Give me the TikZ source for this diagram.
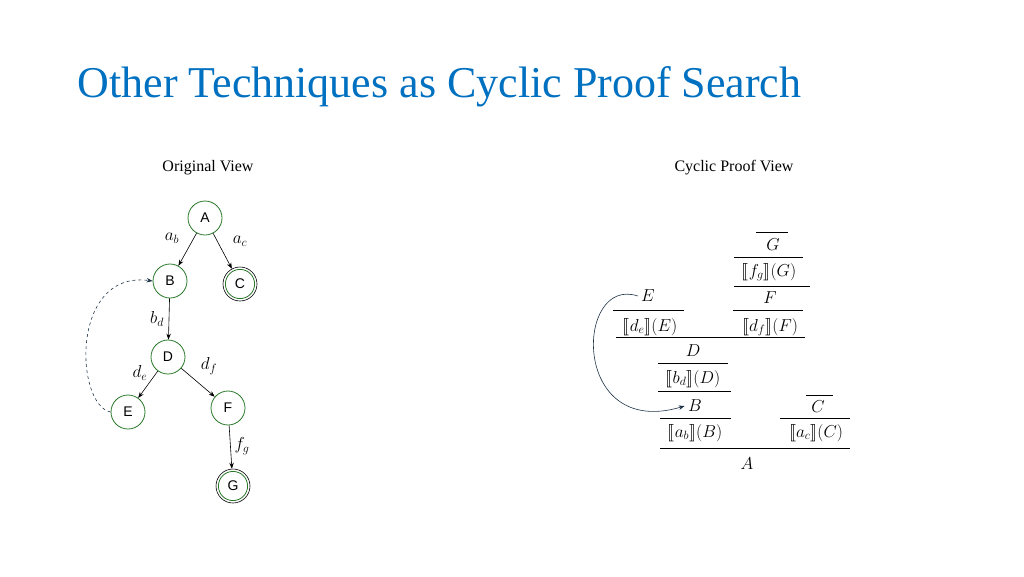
\documentclass[tikz,border=0pt]{standalone}
\usepackage{stmaryrd}
\usepackage{fontspec}
\setmainfont{Liberation Serif}
\setsansfont{Liberation Sans}
\usetikzlibrary{arrows.meta}
\definecolor{titleblue}{RGB}{0,112,192}
\definecolor{nodegreen}{RGB}{40,120,40}
\definecolor{loopblue}{RGB}{30,50,70}

\tikzset{
  state/.style={circle, draw=nodegreen, thick, fill=white, minimum size=34pt,
    inner sep=0pt, font=\sffamily\fontsize{14}{14}\selectfont},
  final/.style={state, draw=black, semithick,
    path picture={\draw[nodegreen, thick] (path picture bounding box.center) circle (14.6pt);}},
  trans/.style={-{Stealth[length=6pt]}, semithick},
  elabel/.style={font=\fontsize{18}{18}\selectfont},
  rule/.style={semithick},
  judg/.style={font=\fontsize{17}{17}\selectfont}
}

\begin{document}
\begin{tikzpicture}[x=1pt, y=-1pt]
  \useasboundingbox (0,0) rectangle (1024,576);

  % Title and headings
  \node[anchor=west, text=titleblue, font=\fontsize{44}{44}\selectfont] (title) at (74,87) {Other Techniques as Cyclic Proof Search};
  \node[font=\fontsize{16}{16}\selectfont] (orig) at (208,168) {Original View};
  \node[font=\fontsize{16}{16}\selectfont] (cyc) at (734,168) {Cyclic Proof View};

  % States
  \node[state] (A) at (205,218) {A};
  \node[state] (B) at (170,281) {B};
  \node[final] (C) at (240,284) {C};
  \node[state] (D) at (168,357) {D};
  \node[state] (E) at (128,412) {E};
  \node[state] (F) at (228,408) {F};
  \node[final] (G) at (233,486) {G};

  % Transitions
  \draw[trans] (A) -- (B);
  \draw[trans] (A) -- (C);
  \draw[trans] (B) -- (D);
  \draw[trans] (D) -- (E);
  \draw[trans] (D) -- (F);
  \draw[trans] (F) -- (G);
  \draw[trans, dashed, loopblue] (E.west) .. controls (75,405) and (70,270) .. (B.west);

  % Transition labels
  \node[elabel] (lab) at (172,238) {$a_b$};
  \node[elabel] (lac) at (240,241) {$a_c$};
  \node[elabel] (lbd) at (157,319) {$b_d$};
  \node[elabel] (lde) at (140,373) {$d_e$};
  \node[elabel] (ldf) at (209,366) {$d_f$};
  \node[elabel] (lfg) at (242,446) {$f_g$};

  % Proof tree
  \node[judg] (pG) at (773,245) {$G$};
  \draw[rule] (756,232) -- (788,232);
  \draw[rule] (734,257) -- (803,257);
  \node[judg] (pfg) at (769,272) {$\llbracket f_g\rrbracket(G)$};
  \draw[rule] (734,286) -- (810,286);
  \node[judg] (pF) at (770,298) {$F$};
  \draw[rule] (733,310) -- (803,310);
  \node[judg] (pdf) at (770,327) {$\llbracket d_f\rrbracket(F)$};
  \node[judg] (pE) at (648,296) {$E$};
  \draw[rule] (613,310) -- (684,310);
  \node[judg] (pde) at (650,327) {$\llbracket d_e\rrbracket(E)$};
  \draw[rule] (616,337) -- (805,337);
  \node[judg] (pD) at (693,351) {$D$};
  \draw[rule] (658,363) -- (728,363);
  \node[judg] (pbd) at (693,379) {$\llbracket b_d\rrbracket(D)$};
  \draw[rule] (658,391) -- (731,391);
  \node[judg] (pB) at (695,406) {$B$};
  \draw[rule] (660,418) -- (731,418);
  \node[judg] (pab) at (695,433) {$\llbracket a_b\rrbracket(B)$};
  \node[judg] (pC) at (818,407) {$C$};
  \draw[rule] (806,395) -- (833,395);
  \draw[rule] (780,418) -- (850,418);
  \node[judg] (pac) at (816,433) {$\llbracket a_c\rrbracket(C)$};
  \draw[rule] (660,448) -- (850,448);
  \node[judg] (pA) at (747,464) {$A$};

  % Cycle back-link
  \draw[trans, loopblue] (pE.west) .. controls (575,275) and (570,440) .. (pB.west);
\end{tikzpicture}
\end{document}
